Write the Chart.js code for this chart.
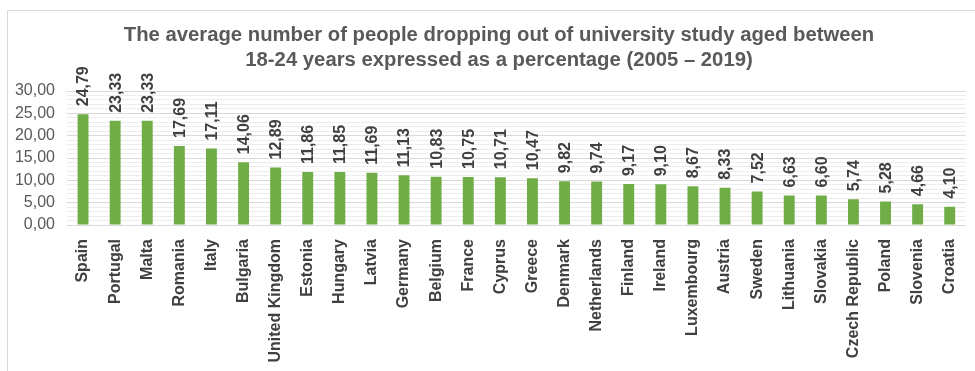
<!DOCTYPE html>
<html>
<head>
<meta charset="utf-8">
<script src="https://cdn.jsdelivr.net/npm/chart.js@4.4.1/dist/chart.umd.min.js"></script>
<style>
  html, body { margin: 0; padding: 0; background: #fff; }
  #wrap { width: 975px; height: 371px; position: relative; }
</style>
</head>
<body>
<div id="wrap"><canvas id="dropoutChart" width="975" height="371"></canvas></div>
<script>
const countries = ["Spain", "Portugal", "Malta", "Romania", "Italy", "Bulgaria", "United Kingdom",
  "Estonia", "Hungary", "Latvia", "Germany", "Belgium", "France", "Cyprus", "Greece", "Denmark",
  "Netherlands", "Finland", "Ireland", "Luxembourg", "Austria", "Sweden", "Lithuania", "Slovakia",
  "Czech Republic", "Poland", "Slovenia", "Croatia"];
const dropoutRates = [24.79, 23.33, 23.33, 17.69, 17.11, 14.06, 12.89, 11.86, 11.85, 11.69, 11.13,
  10.83, 10.75, 10.71, 10.47, 9.82, 9.74, 9.17, 9.10, 8.67, 8.33, 7.52, 6.63, 6.60, 5.74, 5.28,
  4.66, 4.10];
const titleLines = [
  "The average number of people dropping out of university study aged between",
  "18-24 years expressed as a percentage (2005 \u2013 2019)",
];
const yMin = 0;
const yMax = 30;
const majorStep = 5;

const FONT = "'Liberation Sans', Arial, sans-serif";
const fmt = v => v.toFixed(2).replace(".", ",");

// frame round the chart and the two-line title (Excel centres it a bit right of the canvas middle)
const framePlugin = {
  id: "frame",
  beforeDraw(chart) {
    const c = chart.ctx;
    c.save();
    c.strokeStyle = "#d9d9d9";
    c.lineWidth = 1;
    c.strokeRect(7.5, 10.5, 1000, 400);
    c.font = "bold 20.3px " + FONT;
    c.fillStyle = "#595959";
    c.textAlign = "center";
    c.textBaseline = "middle";
    titleLines.forEach((line, i) => c.fillText(line, 499, 35 + i * 25));
    c.restore();
  }
};

// rotated value labels above each bar
const valueLabels = {
  id: "valueLabels",
  afterDatasetsDraw(chart) {
    const c = chart.ctx;
    const meta = chart.getDatasetMeta(0);
    c.save();
    c.font = "bold 16px " + FONT;
    c.fillStyle = "#404040";
    c.textAlign = "left";
    c.textBaseline = "middle";
    meta.data.forEach((bar, i) => {
      c.save();
      c.translate(bar.x, bar.y - 8);
      c.rotate(-Math.PI / 2);
      c.fillText(fmt(dropoutRates[i]), 0, 1);
      c.restore();
    });
    c.restore();
  }
};

const ctx = document.getElementById("dropoutChart").getContext("2d");
const dropoutChart = new Chart(ctx, {
  type: "bar",
  data: {
    labels: countries,
    datasets: [
      {
        data: dropoutRates,
        backgroundColor: "#70ad47",
        barPercentage: 0.34,
        categoryPercentage: 1,
      },
    ],
  },
  options: {
    responsive: false,
    animation: false,
    layout: { padding: { top: 91, right: 4, left: 0, bottom: 0 } },
    plugins: {
      legend: { display: false },
      tooltip: { enabled: false },
      title: { display: false },
    },
    scales: {
      x: {
        grid: { display: false },
        border: { display: true, color: "#d9d9d9" },
        ticks: {
          color: "#404040",
          font: { family: FONT, size: 16, weight: "bold" },
          minRotation: 90,
          maxRotation: 90,
          autoSkip: false,
          padding: 6,
        },
        afterFit(scale) { scale.height = 146; },
      },
      y: {
        min: yMin,
        max: yMax,
        border: { display: false },
        grid: {
          color: c => (c.tick && c.tick.value % majorStep === 0 ? "#d9d9d9" : "#ededed"),
          drawTicks: false,
        },
        ticks: {
          stepSize: 1,
          autoSkip: false,
          color: "#595959",
          font: { family: FONT, size: 16 },
          padding: 12,
          callback: v => (v % majorStep === 0 ? fmt(v) : ""),
        },
        afterFit(scale) { scale.width = 67; },
      },
    },
  },
  plugins: [framePlugin, valueLabels],
});
</script>
</body>
</html>
